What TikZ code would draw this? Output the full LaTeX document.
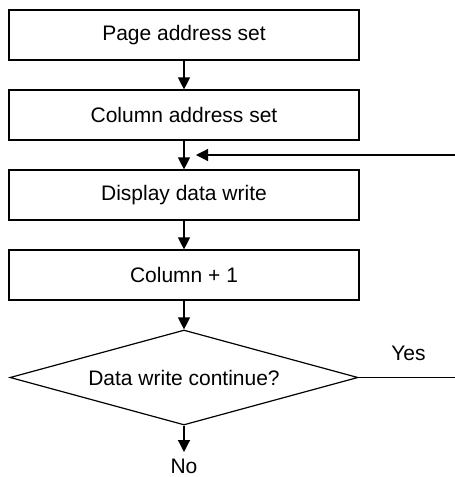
\documentclass[tikz,border=0pt]{standalone}
\usepackage{fontspec}
\setmainfont{Liberation Sans}
\usetikzlibrary{shapes.geometric,arrows.meta}
\begin{document}
\begin{tikzpicture}[x=1pt,y=-1pt,
  every node/.style={font=\fontsize{21}{24}\selectfont},
  stepbox/.style={draw,line width=1.2pt,minimum width=350pt,minimum height=50pt,inner sep=0pt},
  decision/.style={draw,diamond,line width=1.2pt,minimum width=348pt,minimum height=95pt,inner sep=0pt,aspect=3.66},
  flow/.style={line width=1.2pt,-{Triangle[length=12pt,width=12pt]}},
  plain/.style={line width=1.2pt},
  lbl/.style={inner sep=0pt,anchor=base}]
\useasboundingbox (0,0) rectangle (455,477);
\node[stepbox] (b1) at (184,35) {Page address set};
\node[stepbox] (b2) at (184,115) {Column address set};
\node[stepbox] (b3) at (184,195) {Display data write};
\node[stepbox] (b4) at (184,275) {Column + 1};
\node[decision] (d) at (184,377.5) {Data write continue?};
\coordinate (nend) at (184,452);
\node[lbl] (no) at (184,473) {No};
\node[lbl] (yes) at (408.5,360) {Yes};
\coordinate (yr) at (455,377.5);
\coordinate (fr) at (455,155);
\coordinate (fl) at (196,155);
\draw[flow] (b1.south) -- (b2.north);
\draw[flow] (b2.south) -- (b3.north);
\draw[flow] (b3.south) -- (b4.north);
\draw[flow] (b4.south) -- (d.north);
\draw[flow] (d.south) -- (nend);
\draw[plain] (d.east) -- (yr);
\draw[flow] (fr) -- (fl);
\end{tikzpicture}
\end{document}
